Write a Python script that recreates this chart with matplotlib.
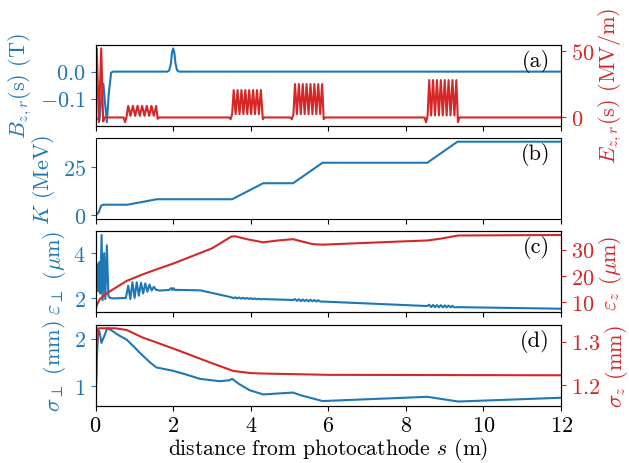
import matplotlib
matplotlib.use("Agg")
import matplotlib.pyplot as plt

plt.rcParams['font.family'] = ['cmr10', 'DejaVu Serif']
plt.rcParams['mathtext.fontset'] = 'cm'
plt.rcParams['axes.formatter.use_mathtext'] = True
plt.rcParams['font.size'] = 16

BLUE = '#1f77b4'
RED = '#d62728'

# ---- (a) fields ----
B_s = [0.0, 0.10, 0.15, 0.20, 0.245, 0.29, 0.34, 0.40, 0.45, 1.85, 1.90, 1.94, 1.97, 2.00,
       2.03, 2.06, 2.10, 2.15, 12.0]
B_v = [-0.17, -0.18, -0.10, -0.045, -0.12, -0.187, -0.08, -0.004, 0.0, 0.0, 0.005, 0.03,
       0.07, 0.086, 0.07, 0.03, 0.005, 0.0, 0.0]

E_s = [0.0, 0.03, 0.085, 0.145, 0.195, 0.23,
       0.72, 0.76, 0.80, 0.84, 0.90, 0.96, 1.02, 1.08, 1.14, 1.20, 1.26, 1.32, 1.38, 1.44,
       1.50, 1.56, 1.60, 1.64,
       3.44, 3.48, 3.52, 3.56, 3.61, 3.66, 3.71, 3.76, 3.81, 3.86, 3.91, 3.96, 4.01, 4.06,
       4.11, 4.16, 4.21, 4.26, 4.31, 4.35,
       5.02, 5.06, 5.10, 5.14, 5.19, 5.24, 5.29, 5.34, 5.39, 5.44, 5.49, 5.54, 5.59, 5.64,
       5.69, 5.74, 5.79, 5.84, 5.88, 5.92,
       8.48, 8.52, 8.56, 8.60, 8.65, 8.70, 8.75, 8.80, 8.85, 8.90, 8.95, 9.00, 9.05, 9.10,
       9.15, 9.20, 9.25, 9.30, 9.34, 9.38,
       12.0]
E_v = [50, 51.7, -3.5, 51.7, -3.0, 0,
       0, -3.5, 1.0, 8.7, 1.2, 8.7, 1.2, 8.7, 1.2, 8.7, 1.2, 8.7, 1.2, 8.7,
       1.2, 8.7, -1.0, 0,
       0, -1.3, 2.5, 20.5, 2.5, 20.5, 2.5, 20.5, 2.5, 20.5, 2.5, 20.5, 2.5, 20.5,
       2.5, 20.5, 2.5, 20.5, -1.3, 0,
       0, -1.3, 2.5, 25, 2.5, 25, 2.5, 25, 2.5, 25, 2.5, 25, 2.5, 25,
       2.5, 25, 2.5, 25, -1.3, 0,
       0, -3.5, 1.5, 28, 1.5, 28, 1.5, 28, 1.5, 28, 1.5, 28, 1.5, 28,
       1.5, 28, 1.5, 28, -3.5, 0,
       0]

# ---- (b) kinetic energy ----
K_s = [0.0, 0.08, 0.14, 0.20, 0.82, 1.58, 3.52, 4.32, 5.09, 5.85, 8.55, 9.33, 12.0]
K_v = [0.0, 1.6, 5.0, 5.5, 5.5, 8.3, 8.3, 16.5, 16.5, 27.0, 27.0, 37.8, 37.8]

# ---- (c) emittances ----
epsT_s = [0.0, 0.03, 0.05, 0.07, 0.10, 0.12, 0.155, 0.18, 0.22, 0.25, 0.29, 0.33, 0.37,
          0.45, 0.78,
          0.84, 0.895, 0.95, 1.005, 1.06, 1.115, 1.17, 1.225, 1.28, 1.335, 1.39, 1.445, 1.50,
          1.56, 1.65, 1.90, 1.95, 1.98, 2.01, 2.04, 2.10, 2.70, 3.50,
          3.55, 3.60, 3.65, 3.70, 3.75, 3.80, 3.85, 3.90, 3.95, 4.00, 4.05, 4.10, 4.15, 4.20,
          4.25, 4.32, 5.09,
          5.14, 5.19, 5.24, 5.29, 5.34, 5.39, 5.44, 5.49, 5.54, 5.59, 5.64, 5.69, 5.74, 5.79,
          5.85, 8.55,
          8.60, 8.65, 8.70, 8.75, 8.80, 8.85, 8.90, 8.95, 9.00, 9.05, 9.10, 9.15, 9.20, 9.25,
          9.35, 12.0]
epsT_v = [2.9, 2.6, 3.5, 2.3, 3.6, 2.2, 4.81, 1.9, 4.0, 1.95, 4.35, 2.1, 2.0,
          1.98, 2.0,
          2.55, 1.95, 2.7, 2.0, 2.7, 2.1, 2.68, 2.2, 2.65, 2.28, 2.6, 2.33, 2.5,
          2.36, 2.33, 2.36, 2.44, 2.36, 2.44, 2.36, 2.36, 2.34, 2.03,
          1.99, 2.03, 1.98, 2.02, 1.97, 2.01, 1.96, 2.00, 1.96, 1.99, 1.95, 1.98, 1.94, 1.97,
          1.94, 1.95, 1.91,
          1.95, 1.87, 1.94, 1.86, 1.93, 1.86, 1.92, 1.85, 1.92, 1.85, 1.91, 1.84, 1.90, 1.84,
          1.84, 1.64,
          1.70, 1.59, 1.69, 1.59, 1.68, 1.58, 1.68, 1.58, 1.67, 1.58, 1.66, 1.58, 1.65, 1.58,
          1.59, 1.52]

epsZ_s = [0.0, 0.05, 0.11, 0.30, 0.80, 1.20, 1.57, 2.00, 3.00, 3.50, 3.60, 3.90, 4.32,
          4.70, 5.09, 5.30, 5.60, 5.85, 6.50, 8.00, 8.55, 8.90, 9.35, 12.0]
epsZ_v = [7.5, 9.5, 11.2, 13.5, 18.1, 20.5, 22.5, 24.7, 30.5, 35.0, 35.1, 34.0, 32.8,
          33.5, 34.0, 33.2, 32.1, 31.9, 32.3, 33.2, 33.5, 34.2, 35.4, 35.6]

# ---- (d) beam sizes ----
sigT_s = [0.0, 0.03, 0.06, 0.10, 0.15, 0.22, 0.30, 0.40, 0.60, 0.80, 1.00, 1.14, 1.40,
          1.57, 2.00, 2.30, 2.69, 3.20, 3.45, 3.52, 3.70, 3.97, 4.32, 5.09, 5.30, 5.85,
          8.55, 9.35, 12.0]
sigT_v = [0.66, 1.50, 2.19, 2.15, 1.91, 2.05, 2.22, 2.18, 2.07, 1.98, 1.82, 1.70, 1.50,
          1.39, 1.32, 1.25, 1.15, 1.10, 1.12, 1.15, 1.04, 0.91, 0.82, 0.86, 0.80, 0.68,
          0.77, 0.67, 0.75]

sigZ_s = [0.0, 0.03, 0.07, 0.50, 0.80, 1.20, 2.00, 3.00, 3.55, 4.00, 4.32, 6.00, 12.0]
sigZ_v = [1.16, 1.28, 1.331, 1.331, 1.327, 1.31, 1.284, 1.25, 1.232, 1.227, 1.226, 1.223,
          1.222]

fig = plt.figure(figsize=(6.29, 4.64), dpi=100)
gs = fig.add_gridspec(4, 1, left=0.152, right=0.892, top=0.9015, bottom=0.1235, hspace=0.15)
axes = [fig.add_subplot(gs[i]) for i in range(4)]
for ax in axes[1:]:
    ax.sharex(axes[0])

lw = 1.5

def style_left(ax):
    ax.tick_params(axis='y', colors=BLUE)
    ax.yaxis.label.set_color(BLUE)

def style_right(ax):
    ax.tick_params(axis='y', colors=RED)
    ax.yaxis.label.set_color(RED)

tx, ty = 0.976, 0.95
rpad = 2

# (a)
ax = axes[0]
ax.plot(B_s, B_v, color=BLUE, lw=lw)
ax.set_ylabel(r'$B_{z,r}(\mathrm{s})$ (T)')
ax.set_yticks([-0.1, 0.0])
style_left(ax)
ax2 = ax.twinx()
ax2.plot(E_s, E_v, color=RED, lw=lw)
ax2.set_ylabel(r'$E_{z,r}(\mathrm{s})$ (MV/m)', labelpad=rpad)
ax2.set_yticks([0, 50])
style_right(ax2)
ax2.text(tx, ty, '(a)', transform=ax.transAxes, ha='right', va='top', zorder=10)

# (b)
ax = axes[1]
ax.plot(K_s, K_v, color=BLUE, lw=lw)
ax.set_ylabel(r'$K$ (MeV)')
ax.set_yticks([0, 25])
style_left(ax)
ax.text(tx, ty, '(b)', transform=ax.transAxes, ha='right', va='top')

# (c)
ax = axes[2]
ax.plot(epsT_s, epsT_v, color=BLUE, lw=lw)
ax.set_ylabel(r'$\varepsilon_\perp$ ($\mu$m)')
ax.set_yticks([2, 4])
style_left(ax)
ax2 = ax.twinx()
ax2.plot(epsZ_s, epsZ_v, color=RED, lw=lw)
ax2.set_ylabel(r'$\varepsilon_z$ ($\mu$m)', labelpad=rpad)
ax2.set_yticks([10, 20, 30])
style_right(ax2)
ax2.text(tx, ty, '(c)', transform=ax.transAxes, ha='right', va='top')

# (d)
ax = axes[3]
ax.plot(sigT_s, sigT_v, color=BLUE, lw=lw)
ax.set_ylabel(r'$\sigma_\perp$ (mm)')
ax.set_yticks([1, 2])
style_left(ax)
ax2 = ax.twinx()
ax2.plot(sigZ_s, sigZ_v, color=RED, lw=lw)
ax2.set_ylabel(r'$\sigma_z$ (mm)', labelpad=rpad)
ax2.set_yticks([1.2, 1.3])
style_right(ax2)
ax2.text(tx, ty, '(d)', transform=ax.transAxes, ha='right', va='top')

for ax in axes[:3]:
    ax.tick_params(axis='x', labelbottom=False)
axes[0].set_xlim(0, 12)
axes[0].set_xticks([0, 2, 4, 6, 8, 10, 12])
axes[3].set_xlabel(r'distance from photocathode $s$ (m)', labelpad=0, fontsize=15.5)

fig.savefig('out.png', dpi=100)
